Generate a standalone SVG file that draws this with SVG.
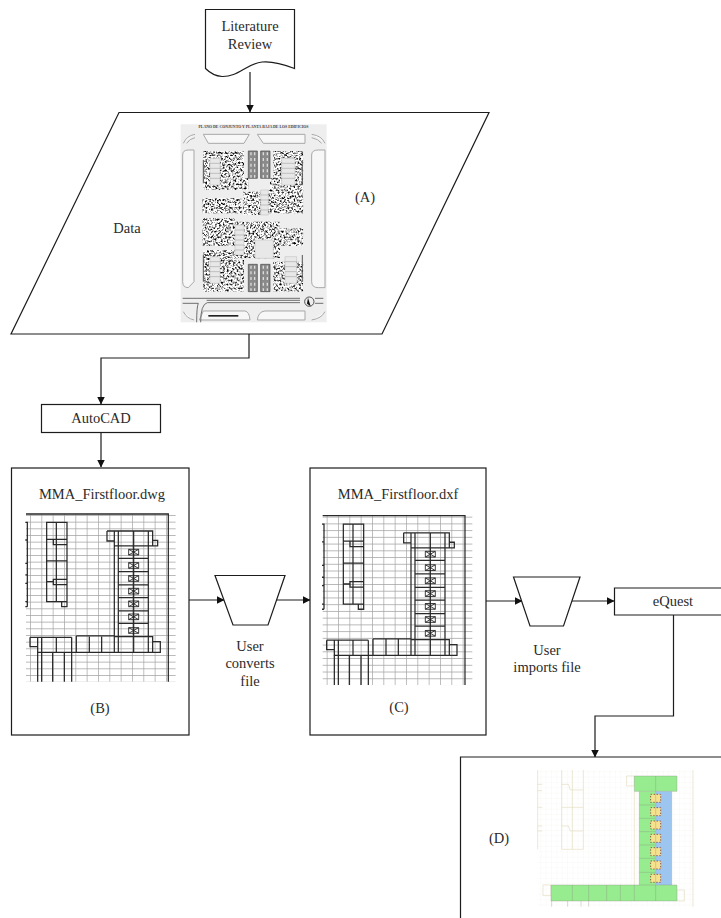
<svg xmlns="http://www.w3.org/2000/svg" xmlns:xlink="http://www.w3.org/1999/xlink" width="721" height="918" viewBox="0 0 721 918">
<style>
.box{fill:#fff;stroke:#1c1c1c;stroke-width:1.2}
.line{fill:none;stroke:#1c1c1c;stroke-width:1.2}
.t{font-family:"Liberation Serif","Times New Roman",serif;font-size:14.5px;fill:#2a2a2a;text-anchor:middle}
.p{fill:none;stroke:#2a2a2a;stroke-width:3.8}
.pt{fill:none;stroke:#222;stroke-width:2.6}
.road{fill:#f7f7f7;stroke:#a8a8a8;stroke-width:3}
.strip{fill:#8a8a8a;stroke:#444;stroke-width:2}
.court{fill:#e8e8e8;stroke:#bbb;stroke-width:1.5}
.dl{fill:none;stroke:#e2dcc0;stroke-width:2}
.dg{stroke:#8c8c80;stroke-width:1;fill:none}
</style>
<defs>
<marker id="arrow" viewBox="0 0 8 8" refX="7.5" refY="4" markerWidth="8" markerHeight="8" markerUnits="userSpaceOnUse" orient="auto"><path d="M0 0L8 4L0 8z" fill="#111"/></marker>
<pattern id="grid" width="34" height="20" patternUnits="userSpaceOnUse" x="26" y="5"><path d="M0 0H34M0 0V20" fill="none" stroke="#a0a0a0" stroke-width="4"/></pattern>
<pattern id="dgrid" width="16" height="16" patternUnits="userSpaceOnUse"><path d="M0 0H16M0 0V16" fill="none" stroke="#f1f1ee" stroke-width="1.5"/></pattern>
<filter id="soft" x="-5%" y="-5%" width="110%" height="110%"><feGaussianBlur stdDeviation="1.6"/></filter>
<filter id="plansoft" x="-2%" y="-2%" width="104%" height="104%"><feGaussianBlur stdDeviation="0.7"/></filter>
<filter id="noise" x="0" y="0" width="100%" height="100%" color-interpolation-filters="sRGB"><feTurbulence type="fractalNoise" baseFrequency="0.17" numOctaves="2" seed="7"/><feColorMatrix type="matrix" values="3.2 0 0 0 -0.8 3.2 0 0 0 -0.8 3.2 0 0 0 -0.8 0 0 0 0 1"/></filter>
<clipPath id="blocks"><path d="M100 108H222V190H235V225H100zM310 108H400V238H300V190H310zM97 250H215V295H97zM97 310H195V392H97zM285 225H400V295H285zM330 340H400V392H330zM220 230H285V300H220zM195 320H330V430H195zM100 405H195V435H222V530H100zM310 440H400V530H310z"/></clipPath>
<g id="plan">
<rect x="48" y="162" width="449" height="503" fill="url(#grid)"/>
<path class="p" d="M48 162H475V665"/>
<path class="p" d="M52 185V440M46 187H52M46 240H52M46 310H52M46 345H52M46 370H52M46 425H52M46 440H52"/>
<path class="p" d="M110 187H171V425H110ZM139 187V425M110 238H130M110 303H171M110 365H130M130 238H171V254H130ZM130 358H171V374H130ZM155 425H171V440H155Z"/>
<path class="p" d="M291 213H428V258H313M291 213V243H313M428 241H443V258H428M313 213V577M325 213V577M371 213V577M415 213V577"/>
<path class="p" d="M325 295H415M325 335H415M325 375H415M325 413H415M325 453H415M325 490H415"/>
<path class="p" d="M60 532H185M199 528H313M313 530H428V577M60 532V560H83M83 532V577H451V545H428M95 532V577M139 532V577M185 532V577M199 528V577M238 530V577M275 530V577"/>
<path class="p" d="M83 577V665M95 577V665M128 577V665M163 577V665M185 577V665"/>
<g id="cells">
<path class="pt" d="M356 268h30v17h-30zM356 268l30 17M386 268l-30 17M356 308h30v17h-30zM356 308l30 17M386 308l-30 17M356 347h30v17h-30zM356 347l30 17M386 347l-30 17M356 385h30v17h-30zM356 385l30 17M386 385l-30 17M356 423h30v17h-30zM356 423l30 17M386 423l-30 17M356 462h30v17h-30zM356 462l30 17M386 462l-30 17M356 503h30v17h-30zM356 503l30 17M386 503l-30 17"/>
</g>
</g>
</defs>

<g id="connectors">
<path class="line" marker-end="url(#arrow)" d="M250 72V112"/>
<path class="line" marker-end="url(#arrow)" d="M249 334V358H101V404"/>
<path class="line" marker-end="url(#arrow)" d="M101 432V467"/>
<path class="line" marker-end="url(#arrow)" d="M189 600H224"/>
<path class="line" marker-end="url(#arrow)" d="M276 600H310"/>
<path class="line" marker-end="url(#arrow)" d="M486 601H522"/>
<path class="line" marker-end="url(#arrow)" d="M572 601H614"/>
<path class="line" marker-end="url(#arrow)" d="M673.5 615V716H595V757"/>
</g>

<g id="literature">
<path class="box" d="M205.5 9.5H294.5V68.5C283 64 272 61 262 62C246 64 238 77 222 76.5C215 76 209 72 205.5 68.5Z"/>
<text class="t" x="250" y="31">Literature</text>
<text class="t" x="250" y="49">Review</text>
</g>

<g id="data">
<path class="box" d="M119 112.5H489L382 334H11Z"/>
<text class="t" x="127" y="233">Data</text>
<text class="t" x="365" y="202">(A)</text>
<g transform="translate(170 115) scale(.3333)" filter="url(#soft)">
<rect x="32" y="28" width="438" height="594" fill="#eeeeee"/>
<path class="road" d="M100 58H238L222 85H115ZM262 58H405V85H280ZM40 85Q50 62 75 58M425 58Q455 62 465 85M50 85Q58 72 75 68M425 68Q445 72 455 85M38 120Q38 105 55 105H72V500L55 518Q38 518 38 500ZM425 120Q425 105 445 105H465V518H445Q425 518 425 500ZM262 615Q265 590 285 588H405V615ZM100 588H225Q238 590 240 615H88ZM40 590Q50 610 72 615M425 615Q455 610 465 590"/>
<g clip-path="url(#blocks)"><rect x="90" y="100" width="320" height="440" filter="url(#noise)"/></g>
<path class="court" d="M120 130H150V210H120ZM335 130H375V210H335ZM120 425H150V505H120ZM345 425H380V505H345ZM195 330H222V420H195ZM272 225H295V300H272ZM255 375H310V430H255Z"/>
<path fill="none" stroke="#aaa" stroke-width="2" d="M120 145H150M120 160H150M120 175H150M120 190H150M335 145H375M335 160H375M335 175H375M335 190H375M120 440H150M120 455H150M120 470H150M120 485H150M345 440H380M345 455H380M345 470H380M345 485H380M195 345H222M195 360H222M195 375H222M195 390H222M195 405H222M272 240H295M272 255H295M272 270H295M272 285H295"/>
<path class="strip" d="M235 108H262V190H235ZM272 108H300V190H272ZM235 448H262V530H235ZM272 448H300V530H272Z"/>
<path fill="none" stroke="#ddd" stroke-width="4" stroke-dasharray="9 8" d="M243 112V188M254 112V188M280 112V188M292 112V188M243 452V528M254 452V528M280 452V528M292 452V528"/>
<path fill="none" stroke="#555" stroke-width="3" d="M100 135V205M397 135V205M100 420V500M397 420V500"/>
<path fill="none" stroke="#555" stroke-width="2.5" d="M38 550H390M110 556H390M38 565H85Q80 575 80 622M92 622Q92 568 112 563H390M435 550H460M435 565H460"/>
<circle cx="418" cy="560" r="14" fill="#eee" stroke="#333" stroke-width="2.5"/>
<path d="M414 548L422 574L411 566z" fill="#111"/>
<path d="M115 600H205V605H115z" fill="#222"/>
</g>
<text x="253.500" y="128" font-family="Liberation Serif,serif" font-size="3.900" font-weight="700" fill="#444" text-anchor="middle">PLANO DE CONJUNTO Y PLANTA BAJA DE LOS EDIFICIOS</text>
</g>

<g id="autocad">
<rect class="box" x="41.500" y="404.500" width="119" height="28"/>
<text class="t" x="101" y="423">AutoCAD</text>
</g>

<g id="node-b">
<rect class="box" x="11.500" y="468" width="177.500" height="267"/>
<text class="t" x="102" y="499">MMA_Firstfloor.dwg</text>
<use href="#plan" xlink:href="#plan" transform="translate(10 460) scale(.3333)" filter="url(#plansoft)"/>
<text class="t" x="100" y="713">(B)</text>
</g>

<g id="convert">
<path class="box" d="M215 575.500H285L268 625H233Z"/>
<text class="t" x="250" y="651">User</text>
<text class="t" x="250" y="668">converts</text>
<text class="t" x="250" y="686">file</text>
</g>

<g id="node-c">
<rect class="box" x="310" y="468" width="176" height="267"/>
<text class="t" x="398" y="499">MMA_Firstfloor.dxf</text>
<use href="#plan" xlink:href="#plan" transform="translate(306.670 461.100) scale(.3333 .3367)" filter="url(#plansoft)"/>
<text class="t" x="399" y="712">(C)</text>
</g>

<g id="import">
<path class="box" d="M513.500 577H580L563.500 626H530Z"/>
<text class="t" x="547" y="655">User</text>
<text class="t" x="547" y="672">imports file</text>
</g>

<g id="equest">
<path class="box" d="M722 588H614.500V615H722"/>
<text class="t" x="673" y="606">eQuest</text>
</g>

<g id="node-d">
<path class="box" d="M722 757H460.500V919"/>
<text class="t" x="499" y="843">(D)</text>
<g transform="translate(455 750) scale(.3333)" filter="url(#plansoft)">
<rect x="248" y="60" width="470" height="410" fill="url(#dgrid)"/>
<path class="dl" d="M248 60V298M248 103H262M248 122H262M248 172H262M248 228H262M248 243H262M320 60V298H385V60M352 60V298M320 103H340L346 120H385M320 172H385M320 228H340L346 243H385M714 60V470M515 78H538V108H515ZM538 124V405M264 405H288V437H264ZM666 420H688V453H666Z"/>
<rect x="538" y="78" width="128" height="46" fill="#97ec8f"/>
<rect x="553" y="124" width="49" height="281" fill="#97ec8f"/>
<rect x="602" y="124" width="48" height="281" fill="#9cc6f0"/>
<rect x="288" y="405" width="378" height="48" fill="#97ec8f"/>
<path fill="#f6e28c" stroke="#8a3a3a" stroke-width="2.500" stroke-dasharray="4 5" d="M587 133h30v24h-30zM587 173h30v24h-30zM587 213h30v24h-30zM587 253h30v24h-30zM587 293h30v24h-30zM587 333h30v24h-30zM587 373h30v24h-30z"/>
<path class="dg" d="M538 78H666V124H538ZM602 78V405M553 124V405M650 124V405M553 165H602M553 205H602M553 245H602M553 285H602M553 325H602M553 367H602M288 405H666V453H288ZM352 405V453M401 405V453M455 405V453M496 405V453M538 405V453M602 405V453M290 453V470M338 453V470M378 453V470M401 453V470"/>
</g>
</g>
</svg>
